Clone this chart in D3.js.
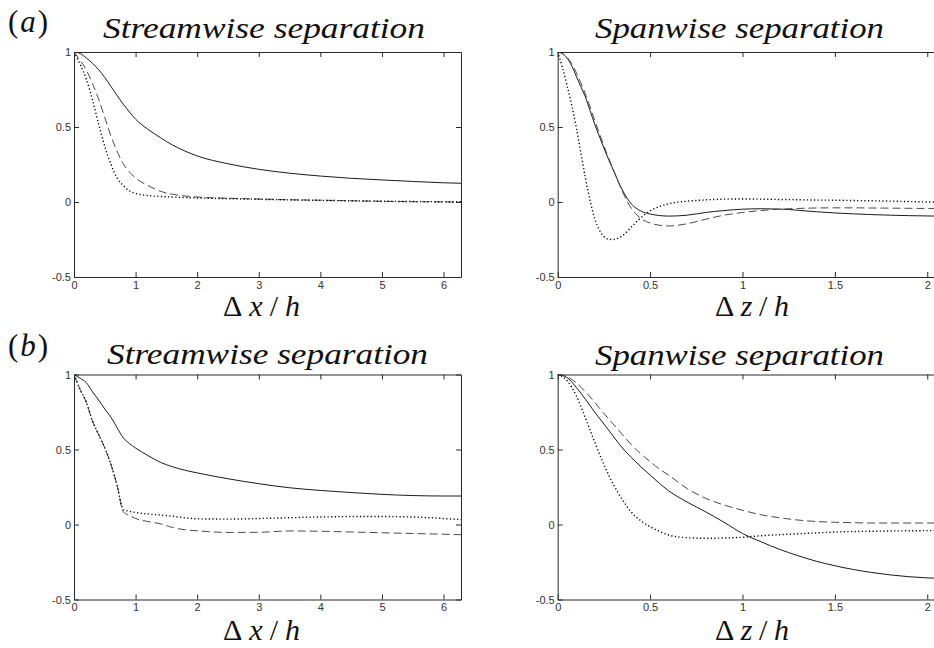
<!DOCTYPE html>
<html>
<head>
<meta charset="utf-8">
<script src="https://cdn.jsdelivr.net/npm/d3@7"></script>
<style>
  body { margin: 0; background: #fff; }
  svg { display: block; }
</style>
</head>
<body>
<svg id="fig" width="934" height="648"></svg>
<script>
// ---- Two-point correlations: separation along x (streamwise) and z (spanwise) ----

// tick values and labels
const yTicks = [-0.5, 0, 0.5, 1];
const yTickLabels = ["-0.5", "0", "0.5", "1"];
const streamTicks = [0, 1, 2, 3, 4, 5, 6];
const streamTickLabels = ["0", "1", "2", "3", "4", "5", "6"];
const spanTicks = [0, 0.5, 1, 1.5, 2];
const spanTickLabels = ["0", "0.5", "1", "1.5", "2"];

// (a) streamwise separation
const aStreamX = [0, 0.1, 0.2, 0.3, 0.4, 0.5, 0.6, 0.7, 0.8, 0.9, 1.0, 1.2, 1.4, 1.6, 1.8, 2.0, 2.5, 3.0, 3.5, 4.0, 4.5, 5.0, 5.5, 6.0, 6.283];
const aStreamSolid = [1, 0.99, 0.96, 0.925, 0.882, 0.83, 0.77, 0.71, 0.652, 0.6, 0.552, 0.485, 0.43, 0.38, 0.34, 0.307, 0.255, 0.218, 0.192, 0.173, 0.158, 0.147, 0.137, 0.128, 0.125];
const aStreamDashed = [1, 0.944, 0.88, 0.79, 0.685, 0.563, 0.44, 0.338, 0.255, 0.2, 0.16, 0.11, 0.072, 0.052, 0.04, 0.033, 0.025, 0.02, 0.015, 0.012, 0.008, 0.005, 0.002, 0.0, -0.002];
const aStreamDotted = [1, 0.917, 0.82, 0.68, 0.52, 0.37, 0.25, 0.16, 0.11, 0.075, 0.058, 0.043, 0.037, 0.033, 0.03, 0.027, 0.022, 0.018, 0.014, 0.011, 0.008, 0.005, 0.003, 0.002, 0.002];

// (a) spanwise separation
const aSpanX = [0, 0.025, 0.05, 0.075, 0.1, 0.125, 0.15, 0.175, 0.2, 0.225, 0.25, 0.275, 0.3, 0.35, 0.4, 0.45, 0.5, 0.55, 0.6, 0.7, 0.8, 0.9, 1.0, 1.1, 1.2, 1.3, 1.4, 1.5, 1.6, 1.7, 1.8, 1.9, 2.0, 2.094];
const aSpanSolid = [1, 0.99, 0.96, 0.91, 0.84, 0.77, 0.70, 0.61, 0.52, 0.44, 0.36, 0.285, 0.215, 0.08, -0.015, -0.06, -0.08, -0.09, -0.094, -0.088, -0.07, -0.057, -0.048, -0.045, -0.047, -0.055, -0.065, -0.073, -0.079, -0.084, -0.088, -0.091, -0.093, -0.095];
const aSpanDashed = [1, 0.99, 0.965, 0.925, 0.865, 0.795, 0.72, 0.635, 0.545, 0.46, 0.375, 0.295, 0.22, 0.07, -0.045, -0.11, -0.14, -0.155, -0.16, -0.145, -0.115, -0.088, -0.07, -0.057, -0.048, -0.043, -0.04, -0.039, -0.039, -0.04, -0.041, -0.042, -0.043, -0.043];
const aSpanDotted = [1, 0.90, 0.78, 0.65, 0.50, 0.33, 0.16, 0.01, -0.11, -0.185, -0.23, -0.248, -0.25, -0.225, -0.165, -0.105, -0.06, -0.03, -0.012, 0.005, 0.014, 0.019, 0.02, 0.019, 0.017, 0.015, 0.013, 0.012, 0.01, 0.008, 0.006, 0.003, 0.0, -0.002];

// (b) streamwise separation
const bStreamX = [0, 0.1, 0.2, 0.3, 0.4, 0.5, 0.6, 0.7, 0.8, 0.9, 1.0, 1.2, 1.4, 1.6, 1.8, 2.0, 2.5, 3.0, 3.5, 4.0, 4.5, 5.0, 5.5, 6.0, 6.283];
const bStreamSolid = [1, 0.975, 0.945, 0.885, 0.83, 0.77, 0.715, 0.645, 0.578, 0.54, 0.51, 0.46, 0.415, 0.385, 0.362, 0.344, 0.305, 0.272, 0.245, 0.227, 0.213, 0.201, 0.193, 0.19, 0.19];
const bStreamDashed = [1, 0.90, 0.815, 0.69, 0.60, 0.51, 0.40, 0.26, 0.085, 0.06, 0.04, 0.02, 0.005, -0.02, -0.035, -0.042, -0.053, -0.052, -0.043, -0.045, -0.05, -0.055, -0.06, -0.065, -0.068];
const bStreamDotted = [1, 0.90, 0.815, 0.69, 0.60, 0.51, 0.40, 0.26, 0.10, 0.088, 0.08, 0.07, 0.063, 0.055, 0.045, 0.038, 0.036, 0.04, 0.045, 0.05, 0.053, 0.053, 0.05, 0.04, 0.032];

// (b) spanwise separation
const bSpanX = [0, 0.05, 0.1, 0.15, 0.2, 0.25, 0.3, 0.35, 0.4, 0.45, 0.5, 0.55, 0.6, 0.7, 0.8, 0.9, 1.0, 1.1, 1.2, 1.3, 1.4, 1.5, 1.6, 1.7, 1.8, 1.9, 2.0, 2.094];
const bSpanSolid = [1, 0.98, 0.915, 0.835, 0.75, 0.67, 0.59, 0.51, 0.445, 0.385, 0.33, 0.275, 0.225, 0.15, 0.085, 0.015, -0.06, -0.115, -0.165, -0.208, -0.245, -0.275, -0.3, -0.32, -0.336, -0.348, -0.356, -0.36];
const bSpanDashed = [1, 0.985, 0.945, 0.885, 0.815, 0.74, 0.67, 0.60, 0.53, 0.47, 0.42, 0.37, 0.33, 0.24, 0.175, 0.13, 0.095, 0.065, 0.045, 0.03, 0.02, 0.015, 0.012, 0.01, 0.01, 0.01, 0.01, 0.01];
const bSpanDotted = [1, 0.96, 0.86, 0.71, 0.55, 0.40, 0.27, 0.165, 0.08, 0.025, -0.015, -0.045, -0.07, -0.088, -0.092, -0.09, -0.085, -0.075, -0.068, -0.062, -0.056, -0.05, -0.047, -0.045, -0.043, -0.042, -0.041, -0.041];

// ---- drawing ----
const svg = d3.select("#fig");
svg.append("rect").attr("width", 934).attr("height", 648).attr("fill", "#fff");

const SERIF = "Liberation Serif";
const SANS = "Liberation Sans";

const styles = {
  solid:  { stroke: "#1a1a1a", width: 1.0, dash: null },
  dashed: { stroke: "#4a4a4a", width: 1.0, dash: "8,4" },
  dotted: { stroke: "#000",    width: 1.4, dash: "1.2,2.4" }
};

let clipId = 0;

function drawPanel(opt) {
  const x = d3.scaleLinear().domain(opt.xDomain).range([opt.left, opt.left + opt.width]);
  const y = d3.scaleLinear().domain([-0.5, 1]).range([opt.top + opt.height, opt.top]);
  const g = svg.append("g");

  const id = "clip" + (clipId++);
  g.append("clipPath").attr("id", id)
    .append("rect").attr("x", opt.left).attr("y", opt.top)
    .attr("width", opt.width).attr("height", opt.height);

  // curves
  const line = d3.line()
    .x(d => x(d[0])).y(d => y(d[1]))
    .curve(d3.curveMonotoneX);
  const curves = g.append("g").attr("clip-path", `url(#${id})`);
  opt.series.forEach(s => {
    const st = styles[s.style];
    curves.append("path")
      .datum(opt.xs.map((v, i) => [v, s.values[i]]))
      .attr("d", line)
      .attr("fill", "none")
      .attr("stroke", st.stroke)
      .attr("stroke-width", st.width)
      .attr("stroke-dasharray", st.dash);
  });

  const fmtX = v => opt.xLabels[opt.xTicks.indexOf(v)];
  const fmtY = v => yTickLabels[yTicks.indexOf(v)];
  const axisStyle = sel => {
    sel.attr("font-family", SANS).attr("font-size", 11);
    sel.selectAll(".domain").attr("stroke", "#2a2a2a").attr("stroke-width", 1);
    sel.selectAll(".tick line").attr("stroke", "#2a2a2a");
    sel.selectAll(".tick text").attr("fill", "#333");
  };

  // bottom / top
  g.append("g").attr("transform", `translate(0,${opt.top + opt.height})`)
    .call(d3.axisBottom(x).tickValues(opt.xTicks).tickFormat(fmtX).tickSize(-5).tickSizeOuter(0).tickPadding(4))
    .call(axisStyle);
  g.append("g").attr("transform", `translate(0,${opt.top})`)
    .call(d3.axisTop(x).tickValues(opt.xTicks).tickFormat("").tickSize(-5).tickSizeOuter(0))
    .call(axisStyle);
  // left / right
  g.append("g").attr("transform", `translate(${opt.left},0)`)
    .call(d3.axisLeft(y).tickValues(yTicks).tickFormat(fmtY).tickSize(-5).tickSizeOuter(0).tickPadding(3))
    .call(axisStyle);
  g.append("g").attr("transform", `translate(${opt.left + opt.width},0)`)
    .call(d3.axisRight(y).tickValues(yTicks).tickFormat("").tickSize(-5).tickSizeOuter(0))
    .call(axisStyle);

  // title, glyphs widened to the wide italic of the typeset original
  svg.append("text")
    .attr("x", opt.titleX).attr("y", opt.titleY)
    .attr("text-anchor", "middle")
    .attr("textLength", opt.titleLen).attr("lengthAdjust", "spacingAndGlyphs")
    .attr("font-family", SERIF)
    .attr("font-style", "italic")
    .attr("font-size", 30)
    .attr("fill", "#111")
    .text(opt.title);

  // axis label  Δx/h  or  Δz/h
  const lab = svg.append("text")
    .attr("x", opt.labelX).attr("y", opt.labelY)
    .attr("text-anchor", "middle")
    .attr("textLength", opt.labelLen).attr("lengthAdjust", "spacing")
    .attr("font-family", SERIF)
    .attr("font-size", 30)
    .attr("fill", "#111");
  lab.append("tspan").text("Δ");
  lab.append("tspan").attr("font-style", "italic").text(opt.labelVar);
  lab.append("tspan").text("/");
  lab.append("tspan").attr("font-style", "italic").text("h");
}

function panelTag(text, tx, ty) {
  const t = svg.append("text")
    .attr("x", tx).attr("y", ty)
    .attr("textLength", 40).attr("lengthAdjust", "spacing")
    .attr("font-family", SERIF)
    .attr("font-size", 31)
    .attr("fill", "#111");
  t.append("tspan").text("(");
  t.append("tspan").attr("font-style", "italic").text(text);
  t.append("tspan").text(")");
}

const leftX = 74, rightX = 557.7, panelW = 387, panelH = 225;

drawPanel({
  left: leftX, top: 52, width: panelW, height: panelH,
  xDomain: [0, 2 * Math.PI], xTicks: streamTicks, xLabels: streamTickLabels,
  xs: aStreamX,
  series: [
    { style: "solid", values: aStreamSolid },
    { style: "dashed", values: aStreamDashed },
    { style: "dotted", values: aStreamDotted }
  ],
  title: "Streamwise separation", titleX: 264, titleY: 37.5, titleLen: 322,
  labelVar: "x", labelX: 261.5, labelY: 316, labelLen: 77
});

drawPanel({
  left: rightX, top: 52, width: panelW, height: panelH,
  xDomain: [0, 2 * Math.PI / 3], xTicks: spanTicks, xLabels: spanTickLabels,
  xs: aSpanX,
  series: [
    { style: "solid", values: aSpanSolid },
    { style: "dashed", values: aSpanDashed },
    { style: "dotted", values: aSpanDotted }
  ],
  title: "Spanwise separation", titleX: 739.5, titleY: 38, titleLen: 289,
  labelVar: "z", labelX: 752, labelY: 316, labelLen: 74
});

drawPanel({
  left: leftX, top: 374.5, width: panelW, height: panelH,
  xDomain: [0, 2 * Math.PI], xTicks: streamTicks, xLabels: streamTickLabels,
  xs: bStreamX,
  series: [
    { style: "solid", values: bStreamSolid },
    { style: "dashed", values: bStreamDashed },
    { style: "dotted", values: bStreamDotted }
  ],
  title: "Streamwise separation", titleX: 267.5, titleY: 364, titleLen: 321,
  labelVar: "x", labelX: 261.5, labelY: 639.5, labelLen: 77
});

drawPanel({
  left: rightX, top: 374.5, width: panelW, height: panelH,
  xDomain: [0, 2 * Math.PI / 3], xTicks: spanTicks, xLabels: spanTickLabels,
  xs: bSpanX,
  series: [
    { style: "solid", values: bSpanSolid },
    { style: "dashed", values: bSpanDashed },
    { style: "dotted", values: bSpanDotted }
  ],
  title: "Spanwise separation", titleX: 739.5, titleY: 364.5, titleLen: 289,
  labelVar: "z", labelX: 752, labelY: 639.5, labelLen: 74
});

panelTag("a", 8, 32);
panelTag("b", 8, 356);
</script>
</body>
</html>
